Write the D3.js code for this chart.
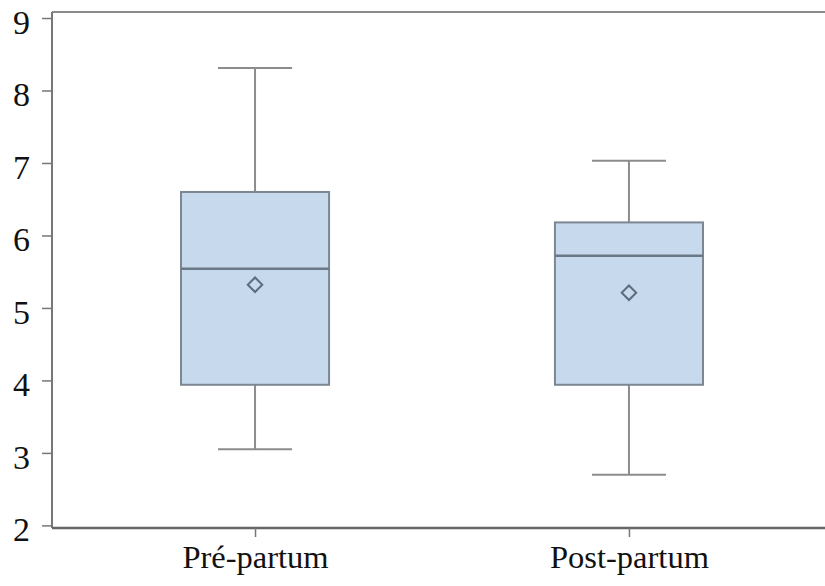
<!DOCTYPE html>
<html>
<head>
<meta charset="utf-8">
<script src="https://cdn.jsdelivr.net/npm/d3@7"></script>
<style>
  html, body { margin: 0; padding: 0; background: #fff; }
  svg { display: block; }
  text { font-family: "Liberation Serif", "Times New Roman", serif; fill: #111; }
</style>
</head>
<body>
<div id="chart"></div>
<script>
// groups and their box stats
const groups = ["Pré-partum", "Post-partum"];
const whiskerLow = [3.05, 2.70];
const q1 = [3.94, 3.94];
const medians = [5.54, 5.72];
const q3 = [6.60, 6.18];
const whiskerHigh = [8.31, 7.03];
const means = [5.32, 5.21];
const yTicks = [2, 3, 4, 5, 6, 7, 8, 9];

const width = 825, height = 586;
const margin = { top: 12, left: 52, bottom: 58 };
const plotRight = 832; // plot runs past the right edge of the picture

const svg = d3.select("#chart")
    .append("svg")
    .attr("width", width)
    .attr("height", height);

const x = d3.scalePoint()
    .domain(groups)
    .range([margin.left, plotRight])
    .padding(0.543);

const y = d3.scaleLinear()
    .domain([1.964, 9.083])
    .range([height - margin.bottom, margin.top]);

const boxW = x.step() * 0.396;
const capW = boxW / 2;

const data = groups.map((g, i) => ({
    g, lo: whiskerLow[i], q1: q1[i], med: medians[i], q3: q3[i], hi: whiskerHigh[i], mean: means[i]
}));

// frame: top line (no right border visible)
svg.append("line")
    .attr("x1", margin.left).attr("x2", width)
    .attr("y1", margin.top).attr("y2", margin.top)
    .attr("stroke", "#8a8a8a").attr("stroke-width", 2);

const g = svg.append("g");

// whiskers
g.selectAll(".whisker")
    .data(data)
    .join("g")
    .attr("class", "whisker")
    .each(function (d) {
        const s = d3.select(this);
        const cx = x(d.g);
        s.append("line").attr("x1", cx).attr("x2", cx).attr("y1", y(d.hi)).attr("y2", y(d.q3));
        s.append("line").attr("x1", cx).attr("x2", cx).attr("y1", y(d.q1)).attr("y2", y(d.lo));
        s.append("line").attr("x1", cx - capW / 2).attr("x2", cx + capW / 2).attr("y1", y(d.hi)).attr("y2", y(d.hi));
        s.append("line").attr("x1", cx - capW / 2).attr("x2", cx + capW / 2).attr("y1", y(d.lo)).attr("y2", y(d.lo));
    })
    .selectAll("line")
    .attr("stroke", "#8c8c8c")
    .attr("stroke-width", 2);

// boxes
g.selectAll(".box")
    .data(data)
    .join("rect")
    .attr("class", "box")
    .attr("x", d => x(d.g) - boxW / 2)
    .attr("width", boxW)
    .attr("y", d => y(d.q3))
    .attr("height", d => y(d.q1) - y(d.q3))
    .attr("fill", "#c6d9ed")
    .attr("stroke", "#7c8793")
    .attr("stroke-width", 2);

// medians
g.selectAll(".median")
    .data(data)
    .join("line")
    .attr("class", "median")
    .attr("x1", d => x(d.g) - boxW / 2)
    .attr("x2", d => x(d.g) + boxW / 2)
    .attr("y1", d => y(d.med))
    .attr("y2", d => y(d.med))
    .attr("stroke", "#6b7886")
    .attr("stroke-width", 2.5);

// means as diamonds
g.selectAll(".mean")
    .data(data)
    .join("path")
    .attr("class", "mean")
    .attr("d", d3.symbol(d3.symbolSquare, 105))
    .attr("transform", d => `translate(${x(d.g)},${y(d.mean)}) rotate(45)`)
    .attr("fill", "none")
    .attr("stroke", "#5e6d7d")
    .attr("stroke-width", 2);

// axes
const yAxis = svg.append("g")
    .attr("transform", `translate(${margin.left},0)`)
    .call(d3.axisLeft(y).tickValues(yTicks).tickSize(10).tickPadding(12).tickSizeOuter(0));
yAxis.select(".domain").attr("stroke", "#777").attr("stroke-width", 2)
    .attr("d", `M0,${margin.top}V${height - margin.bottom}`);
yAxis.selectAll(".tick line").attr("stroke", "#777").attr("stroke-width", 1.5);
yAxis.selectAll(".tick text")
    .attr("font-size", 34)
    .attr("dy", "0.45em")
    .style("font-family", "'Liberation Serif', serif");

const xAxis = svg.append("g")
    .attr("transform", `translate(0,${height - margin.bottom})`)
    .call(d3.axisBottom(x).tickSize(9).tickPadding(8).tickSizeOuter(0));
xAxis.select(".domain").attr("stroke", "#666").attr("stroke-width", 2.5)
    .attr("d", `M${margin.left},0H${width}`);
xAxis.selectAll(".tick line").attr("stroke", "#777").attr("stroke-width", 1.5);
xAxis.selectAll(".tick text")
    .attr("font-size", 32.5)
    .style("font-family", "'Liberation Serif', serif");
</script>
</body>
</html>
